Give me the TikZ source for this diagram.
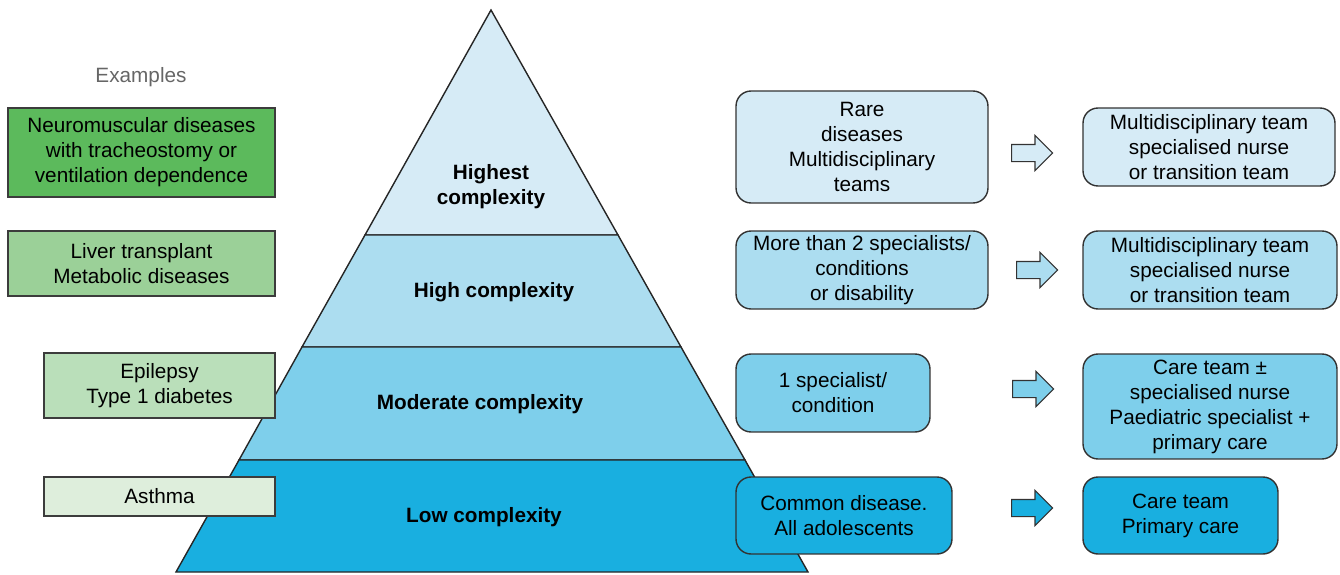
\documentclass[tikz,border=0pt]{standalone}
\usepackage{fontspec}
\setmainfont{Liberation Sans}
\usetikzlibrary{shapes.arrows,positioning}
\definecolor{tierA}{RGB}{214,235,246}
\definecolor{tierB}{RGB}{172,221,240}
\definecolor{tierC}{RGB}{126,207,235}
\definecolor{tierD}{RGB}{25,175,224}
\definecolor{greenA}{RGB}{92,186,92}
\definecolor{greenB}{RGB}{155,208,152}
\definecolor{greenC}{RGB}{186,223,186}
\definecolor{greenD}{RGB}{222,238,220}
\definecolor{edge}{RGB}{60,60,60}
\newcommand{\fsz}{\fontsize{11.8}{14.2}\selectfont}
\tikzset{
    exbox/.style={
        rectangle, draw=edge, line width=0.8pt,
        align=center, inner sep=0pt, font=\fsz
    },
    infobox/.style={
        rectangle, rounded corners=0.3cm,
        draw=black!80, line width=0.8pt,
        align=center, inner sep=0pt, font=\fsz
    },
    tier/.style={
        draw=black!85, line width=0.8pt
    },
    tierlabel/.style={
        font=\fsz\bfseries, align=center
    },
    blockarrow/.style={
        single arrow, draw=black!80, line width=0.6pt,
        text height=0.16cm, text depth=0.16cm, text width=0pt,
        minimum height=0.82cm, minimum width=0.68cm,
        single arrow head extend=0.18cm, inner sep=0pt, anchor=tail
    }
}

\begin{document}
\begin{tikzpicture}[x=0.02cm, y=-0.02cm]
    \useasboundingbox (0,0) rectangle (1340,575);
    % pyramid
    \filldraw[tier, fill=tierA] (491,10) -- (618,235) -- (365,235) -- cycle;
    \filldraw[tier, fill=tierB] (365,235) -- (618,235) -- (681,347) -- (302,347) -- cycle;
    \filldraw[tier, fill=tierC] (302,347) -- (681,347) -- (745,460) -- (239,460) -- cycle;
    \filldraw[tier, fill=tierD] (239,460) -- (745,460) -- (808,572) -- (176,572) -- cycle;
    \node[tierlabel] (highest) at (491,187) {Highest\\complexity};
    \node[tierlabel] (high) at (494,292) {High complexity};
    \node[tierlabel] (moderate) at (480,404) {Moderate complexity};
    \node[tierlabel] (low) at (484,517) {Low complexity};

    % examples
    \node[font=\fsz, text=black!60] (examples) at (141,77) {Examples};
    \node[exbox, fill=greenA, minimum width=5.34cm, minimum height=1.78cm] (neuro) at (141.5,152.5)
        {Neuromuscular diseases\\with tracheostomy or\\ventilation dependence};
    \node[exbox, fill=greenB, minimum width=5.34cm, minimum height=1.3cm] (liver) at (141.5,263.5)
        {Liver transplant\\Metabolic diseases};
    \node[exbox, fill=greenC, minimum width=4.62cm, minimum height=1.3cm] (epilepsy) at (159.5,385.5)
        {Epilepsy\\Type 1 diabetes};
    \node[exbox, fill=greenD, minimum width=4.62cm, minimum height=0.78cm] (asthma) at (159.5,496.5)
        {Asthma};

    % conditions
    \node[infobox, fill=tierA, minimum width=5.04cm, minimum height=2.24cm] (rare) at (862,147)
        {Rare\\diseases\\Multidisciplinary\\teams};
    \node[infobox, fill=tierB, minimum width=5.04cm, minimum height=1.56cm] (more) at (862,270)
        {More than 2 specialists/\\conditions\\or disability};
    \node[infobox, fill=tierC, minimum width=3.88cm, minimum height=1.56cm] (one) at (833,393)
        {1 specialist/\\condition};
    \node[infobox, fill=tierD, minimum width=4.32cm, minimum height=1.54cm] (common) at (844,515.5)
        {Common disease.\\All adolescents};

    % arrows
    \node[blockarrow, fill=tierA] (arrA) at (1011,153) {};
    \node[blockarrow, fill=tierB] (arrB) at (1016,270) {};
    \node[blockarrow, fill=tierC] (arrC) at (1012,389) {};
    \node[blockarrow, fill=tierD] (arrD) at (1011,508) {};

    % teams
    \node[infobox, fill=tierA, minimum width=5.04cm, minimum height=1.56cm] (teamA) at (1209,147)
        {Multidisciplinary team\\specialised nurse\\or transition team};
    \node[infobox, fill=tierB, minimum width=5.08cm, minimum height=1.56cm] (teamB) at (1210,270)
        {Multidisciplinary team\\specialised nurse\\or transition team};
    \node[infobox, fill=tierC, minimum width=5.08cm, minimum height=2.1cm] (teamC) at (1210,406.5)
        {Care team ±\\specialised nurse\\Paediatric specialist +\\primary care};
    \node[infobox, fill=tierD, minimum width=3.9cm, minimum height=1.54cm] (teamD) at (1180.5,515.5)
        {Care team\\Primary care};
\end{tikzpicture}
\end{document}
